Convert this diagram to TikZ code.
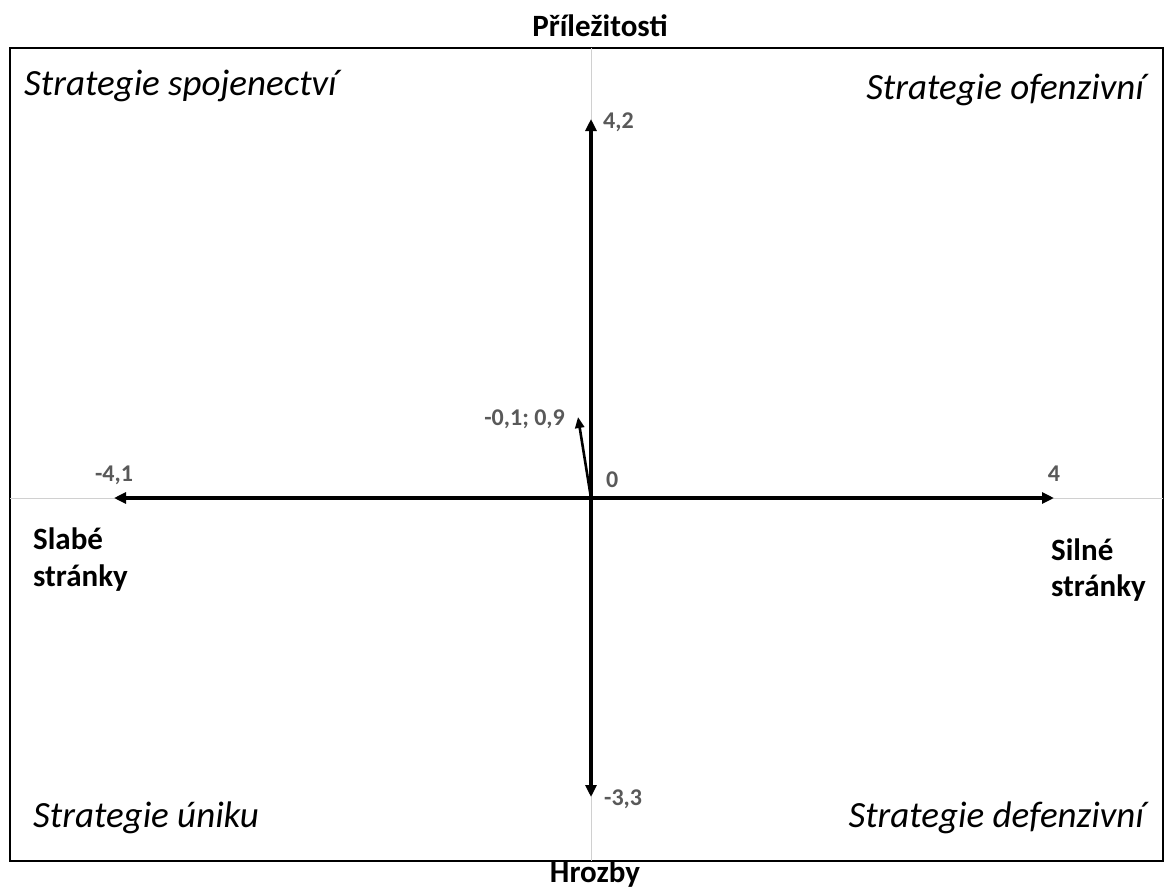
\documentclass[tikz,border=0pt]{standalone}
\usepackage{fontspec}
\setmainfont{Carlito}
\usetikzlibrary{arrows.meta}
\definecolor{numgray}{HTML}{595959}
\definecolor{axisgray}{HTML}{D0D0D0}
\tikzset{
  vec/.style={line width=3.2pt, -{Triangle[length=12pt,width=11pt]}},
  numlbl/.style={text=numgray, font=\fontsize{24}{28}\selectfont\bfseries, inner sep=0pt},
  axlbl/.style={font=\fontsize{31}{37}\selectfont\bfseries, inner sep=0pt},
  quad/.style={font=\fontsize{37}{42}\selectfont\itshape, inner sep=0pt},
}
\begin{document}
\begin{tikzpicture}[x=1pt,y=-1pt]
\useasboundingbox (0,0) rectangle (1171,889);
% frame
\draw[line width=2pt] (10,48) rectangle (1163,861);
% light axes
\coordinate (o) at (591,498);
\draw[axisgray, line width=1pt] (591,48) -- (591,861);
\draw[axisgray, line width=1pt] (10,498) -- (1163,498);
% vectors
\coordinate (up) at (591,119);
\coordinate (dn) at (591,797);
\coordinate (lf) at (114,498);
\coordinate (rt) at (1054,498);
\coordinate (pt) at (578,417);
\draw[vec] (o) -- (up);
\draw[vec] (o) -- (dn);
\draw[vec] (o) -- (lf);
\draw[vec] (o) -- (rt);
\draw[line width=2.6pt, -{Triangle[length=11pt,width=9pt]}] (o) -- (pt);
% numbers
\node[numlbl, anchor=base west] (n42) at (603,128) {4,2};
\node[numlbl, anchor=base west] (n33) at (604,805) {-3,3};
\node[numlbl, anchor=base] (n41) at (114,481) {-4,1};
\node[numlbl, anchor=base] (n4) at (1054,481) {4};
\node[numlbl, anchor=base west] (n0) at (606,487) {0};
\node[numlbl, anchor=base east] (npt) at (565,425) {-0,1; 0,9};
% axis titles
\node[axlbl, anchor=base] (opp) at (600,36) {Příležitosti};
\node[axlbl, anchor=base] (thr) at (595,882) {Hrozby};
\node[axlbl, anchor=base west] (weak1) at (33,549) {Slabé};
\node[axlbl, anchor=base west] (weak2) at (33,586) {stránky};
\node[axlbl, anchor=base west] (strong1) at (1051,560) {Silné};
\node[axlbl, anchor=base west] (strong2) at (1051,596) {stránky};
% quadrant strategies
\node[quad, anchor=base west] (q1) at (24,95) {Strategie spojenectví};
\node[quad, anchor=base east] (q2) at (1144,99) {Strategie ofenzivní};
\node[quad, anchor=base west] (q3) at (33,827) {Strategie úniku};
\node[quad, anchor=base east] (q4) at (1144,827) {Strategie defenzivní};
\end{tikzpicture}
\end{document}
